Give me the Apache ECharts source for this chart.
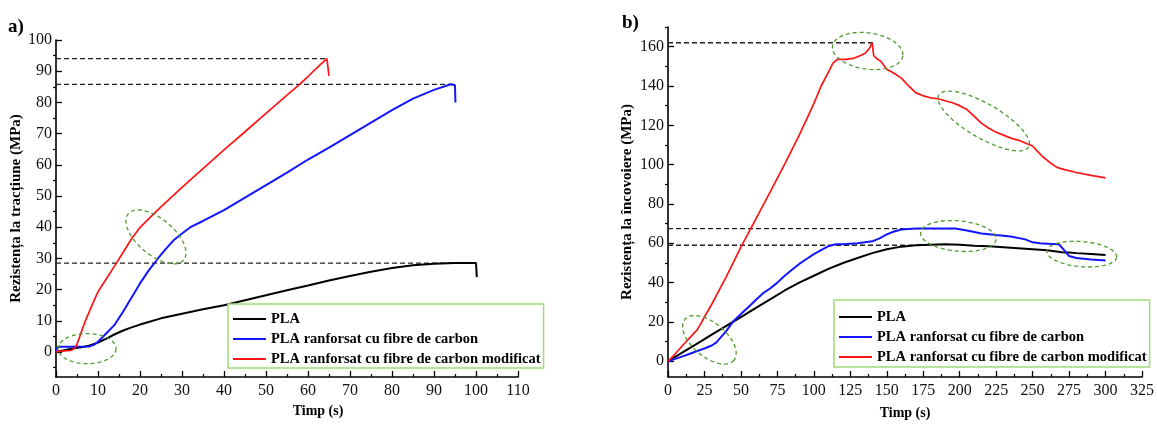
<!DOCTYPE html>
<html>
<head>
<meta charset="utf-8">
<script src="https://cdn.jsdelivr.net/npm/echarts@6/dist/echarts.min.js"></script>
<style>
html,body{margin:0;padding:0;background:#fff;}
#c{width:1157px;height:425px;}
</style>
</head>
<body>
<div id="c"></div>
<script>
// ---------- DATA ----------
const seriesNames = ['PLA', 'PLA ranforsat cu fibre de carbon', 'PLA ranforsat cu fibre de carbon modificat'];

// Chart a) tensile strength
const aTime_PLA = [0,2,4,6,8,10,12,14,16,18,20,25,30,35,40,45,50,55,60,65,70,75,80,85,90,95,100,100.2];
const aStr_PLA  = [0,0.6,1.1,1.5,2.1,3.0,4.3,5.7,6.9,7.9,8.8,10.8,12.3,13.7,15.0,16.6,18.2,19.8,21.3,22.9,24.4,25.7,26.9,27.8,28.3,28.5,28.5,24];
const aTime_CF  = [0,0.5,5,8,9,10,12,14,16,18,20,22,24,26,28,30,32,35,40,45,50,55,60,65,70,75,80,85,90,94,95,95.1];
const aStr_CF   = [0.5,1.7,1.7,1.8,2.3,3.3,6,8.8,13,17.5,22,26,29.5,32.8,35.8,38,40,42,45.5,49.5,53.5,57.5,61.7,65.5,69.5,73.5,77.5,81.2,84,85.8,85.5,80];
const aTime_CFM = [0,1,3.5,4.5,5,6,7,8,9,10,12,14,16,18,20,22,25,30,35,40,45,50,55,58,60,63,64.5,65];
const aStr_CFM  = [0,0.3,0.5,1.2,2.5,6.3,10,13.2,16.3,19.3,23.5,27.7,32,36.3,39.9,42.6,46.5,52.8,58.8,64.8,70.6,76.5,82.3,85.8,88.3,92.2,94,88.5];

// Chart b) flexural strength
const bTime_PLA = [0,10,20,30,40,50,60,70,80,90,100,110,120,130,140,150,160,170,180,190,200,210,220,230,240,250,260,265,270,275,280,290,300];
const bStr_PLA  = [0,4.5,9,13.5,18,22.5,27,31.5,36,40,43.5,47,50,52.5,55,57,58.3,59,59.3,59.5,59.2,58.8,58.5,58,57.5,57,56.5,56,55.5,55.3,55,54.5,54];
const bTime_CF  = [0,5,10,15,20,25,30,33,36,40,45,50,55,60,65,70,75,80,85,90,95,100,105,110,115,120,130,140,145,150,155,160,170,180,190,197,205,215,225,235,245,250,255,260,268,271,275,280,290,300];
const bStr_CF   = [0,1.2,2.5,3.8,5.2,6.5,8,9.5,12,15.5,20.5,24,27.5,31,34.5,37,40,43.5,46.5,49.5,52,54.5,56.5,58.5,59.5,59.5,60,61,62.5,64.5,66,67,67.5,67.5,67.5,67.5,66.5,65,64.2,63.5,62,60.5,60,59.8,59.5,57,53.5,52.5,51.8,51.3];
const bTime_CFM = [0,5,10,15,20,22,25,30,40,50,60,70,80,90,95,100,105,110,113,116,122,127,132,135,138,140,141,143,146,150,155,160,165,170,175,180,185,190,195,200,205,210,215,220,225,230,235,240,245,250,253,257,262,267,272,280,290,300];
const bStr_CFM  = [0,3.8,8,12,16,18.5,22.5,29,43,58,72,86,100.3,115,123,131,140,147,151.5,153.5,153.5,154,155.5,156.5,159,162,155.5,154,152.5,148.5,146.5,144,140,136.5,135,134,133.5,132.5,131.5,130,128,124.5,121,118.5,116.5,115,113.5,112.5,111,109.5,107,104,101,98.5,97.5,96,94.5,93.3];

// Dashed reference lines: strength level and time where it ends
const aRefLevel = [94, 85.8, 28.5];
const aRefEnd   = [64.5, 94.5, 100];
const bRefLevel = [162, 67.5, 59];
const bRefEnd   = [141, 197, 176];

// Highlight ellipses: major-axis endpoints (time, strength) and minor/major ratio
const aEllipses = [
  [0.5, 1.1, 14.3, 1.1, 0.52],
  [17.2, 44.3, 30.4, 29.5, 0.5]
];
const bEllipses = [
  [11.6, 21.3, 45.2, 0.5, 0.53],
  [112.8, 160.3, 161, 155.3, 0.51],
  [185.7, 135.4, 247.3, 109, 0.33],
  [173.2, 65.4, 225, 62, 0.4],
  [259.8, 56, 307.6, 53, 0.36]
];

// Axis ticks
const aXTicks = {min: 0, max: 110, interval: 10};
const aYMajor = [0,10,20,30,40,50,60,70,80,90,100];
const aYMinor = [-5,5,15,25,35,45,55,65,75,85,95];
const bXTicks = {min: 0, max: 325, interval: 25};
const bYMajor = [0,20,40,60,80,100,120,140,160];
const bYMinor = [10,30,50,70,90,110,130,150,170];

const aYName = 'Rezistența la tracțiune (MPa)';
const bYName = 'Rezistența la încovoiere (MPa)';
const xName = 'Timp (s)';

// ---------- BUILD ----------
const FONT = 'Liberation Serif';
const colors = ['#000000', '#1414ff', '#ff1414'];
const zip = (xs, ys) => xs.map((x, i) => [x, ys[i]]);

function ellipseRender(params, api) {
  const p1 = api.coord([api.value(0), api.value(1)]);
  const p2 = api.coord([api.value(2), api.value(3)]);
  const ratio = api.value(4);
  const cx = (p1[0] + p2[0]) / 2, cy = (p1[1] + p2[1]) / 2;
  const a = Math.hypot(p2[0] - p1[0], p2[1] - p1[1]) / 2;
  const b = a * ratio;
  const ang = Math.atan2(p2[1] - p1[1], p2[0] - p1[0]);
  const pts = [];
  for (let k = 0; k <= 96; k++) {
    const t = k / 96 * Math.PI * 2;
    const ex = a * Math.cos(t), ey = b * Math.sin(t);
    pts.push([cx + ex * Math.cos(ang) - ey * Math.sin(ang), cy + ex * Math.sin(ang) + ey * Math.cos(ang)]);
  }
  return {
    type: 'polyline',
    shape: {points: pts},
    style: {fill: 'none', stroke: '#4e9a2e', lineWidth: 1.3, lineDash: [4, 3]}
  };
}

function xAxisDef(gi, t, nameGap, namePad) {
  return {
    type: 'value', gridIndex: gi, min: t.min, max: t.max, interval: t.interval,
    name: xName, nameLocation: 'middle', nameGap: nameGap,
    nameTextStyle: {fontFamily: FONT, fontWeight: 'bold', fontSize: 14, color: '#000', padding: namePad},
    axisLine: {onZero: false, lineStyle: {color: '#000', width: 1.6}},
    axisTick: {inside: true, length: 6, lineStyle: {color: '#000', width: 1.3}},
    minorTick: {show: true, splitNumber: 2, length: 3, lineStyle: {color: '#000', width: 1.2}},
    axisLabel: {fontFamily: FONT, fontSize: 16, color: '#111', margin: 6},
    splitLine: {show: false}
  };
}
function yAxisDef(gi, min, max, major, name, nameGap) {
  return {
    type: 'value', gridIndex: gi, min: min, max: max,
    name: name, nameLocation: 'middle', nameGap: nameGap, nameRotate: 90,
    nameTextStyle: {fontFamily: FONT, fontWeight: 'bold', fontSize: 15, color: '#000'},
    axisLine: {onZero: false, lineStyle: {color: '#000', width: 1.6}},
    axisTick: {inside: true, length: 6, customValues: major, lineStyle: {color: '#000', width: 1.3}},
    axisLabel: {fontFamily: FONT, fontSize: 16, color: '#111', margin: 4, customValues: major},
    splitLine: {show: false}
  };
}
function yMinorDef(gi, min, max, minor) {
  return {
    type: 'value', gridIndex: gi, min: min, max: max,
    axisLine: {show: false},
    axisTick: {inside: true, length: 3, customValues: minor, lineStyle: {color: '#000', width: 1.2}},
    axisLabel: {show: false},
    splitLine: {show: false}
  };
}

const series = [];
function addCurves(xi, yi, data) {
  data.forEach((d, i) => {
    series.push({
      name: seriesNames[i], type: 'line', xAxisIndex: xi, yAxisIndex: yi,
      data: d, showSymbol: false, symbol: 'none', color: colors[i],
      lineStyle: {color: colors[i], width: i === 2 ? 1.7 : 2}, z: 3 + i, silent: true
    });
  });
}
function addRefs(xi, yi, levels, ends) {
  levels.forEach((lv, i) => {
    series.push({
      name: 'ref', type: 'line', xAxisIndex: xi, yAxisIndex: yi,
      data: [[0, lv], [ends[i], lv]], showSymbol: false, symbol: 'none',
      lineStyle: {color: '#222', width: 1.3, type: [5, 3]}, z: 2, silent: true
    });
  });
}
function addEllipses(xi, yi, ells) {
  series.push({
    name: 'ellipse', type: 'custom', xAxisIndex: xi, yAxisIndex: yi,
    renderItem: ellipseRender, data: ells, silent: true, z: 6, clip: false
  });
}

addRefs(0, 0, aRefLevel, aRefEnd);
addCurves(0, 0, [zip(aTime_PLA, aStr_PLA), zip(aTime_CF, aStr_CF), zip(aTime_CFM, aStr_CFM)]);
addEllipses(0, 0, aEllipses);
addRefs(1, 2, bRefLevel, bRefEnd);
addCurves(1, 2, [zip(bTime_PLA, bStr_PLA), zip(bTime_CF, bStr_CF), zip(bTime_CFM, bStr_CFM)]);
addEllipses(1, 2, bEllipses);

function legendDef(left, top, pad) {
  return {
    data: seriesNames, orient: 'vertical', left: left, top: top,
    icon: 'rect', itemWidth: 33, itemHeight: 2, itemGap: 4,
    padding: pad, borderColor: '#9fdc7c', borderWidth: 1.5,
    backgroundColor: '#fff', selectedMode: false,
    textStyle: {fontFamily: FONT, fontWeight: 'bold', fontSize: 14.5, color: '#000', lineHeight: 16}
  };
}

const option = {
  animation: false,
  backgroundColor: '#fff',
  title: [
    {text: 'a)', left: 3, top: 13, textStyle: {fontFamily: FONT, fontWeight: 'bold', fontSize: 19, color: '#000'}},
    {text: 'b)', left: 617, top: 9, textStyle: {fontFamily: FONT, fontWeight: 'bold', fontSize: 19, color: '#000'}}
  ],
  legend: [legendDef(228, 304, [7, 3, 1, 5]), legendDef(834, 300, [9, 3, 2, 5])],
  grid: [
    {left: 56, right: 639, top: 40, bottom: 48},
    {left: 668, right: 14, top: 27, bottom: 47}
  ],
  xAxis: [xAxisDef(0, aXTicks, 25, [0, 0, 0, 62]), xAxisDef(1, bXTicks, 29, [0, 0, 0, 0])],
  yAxis: [
    yAxisDef(0, -8, 100, aYMajor, aYName, 21),
    yMinorDef(0, -8, 100, aYMinor),
    yAxisDef(1, -8, 170, bYMajor, bYName, 33),
    yMinorDef(1, -8, 170, bYMinor)
  ],
  series: series
};

const chart = echarts.init(document.getElementById('c'), null, {renderer: 'canvas'});
chart.setOption(option);
</script>
</body>
</html>
